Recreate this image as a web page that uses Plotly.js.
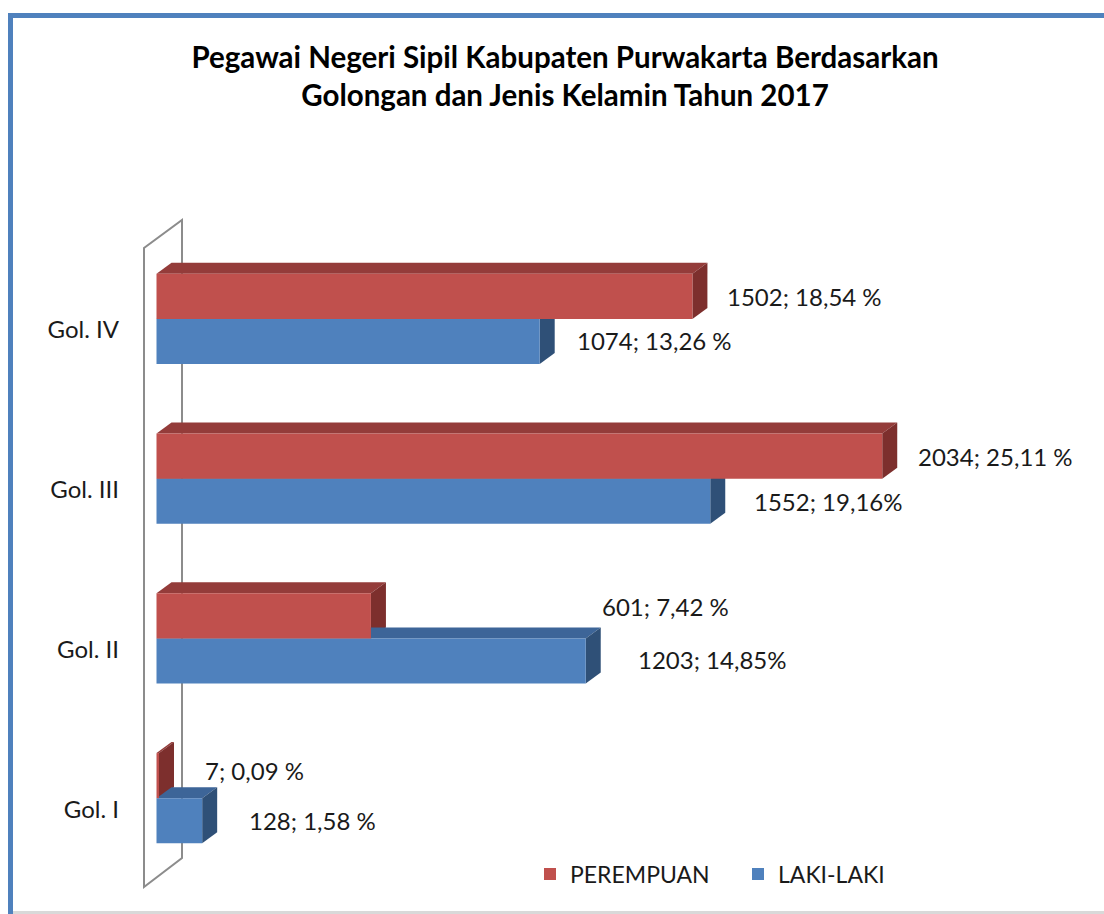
<!DOCTYPE html>
<html>
<head>
<meta charset="utf-8">
<script src="https://cdn.plot.ly/plotly-3.0.1.min.js"></script>
<style>
  html, body { margin: 0; padding: 0; background: #ffffff; }
  #chart { width: 1104px; height: 914px; }
</style>
</head>
<body>
<div id="chart"></div>
<script>
// ---- data ----
const categories = ["Gol. I", "Gol. II", "Gol. III", "Gol. IV"];
const seriesNames = ["PEREMPUAN", "LAKI-LAKI"];
const perempuan = [7, 601, 2034, 1502];
const lakiLaki = [128, 1203, 1552, 1074];
const perempuanPct = ["0,09 %", "7,42 %", "25,11 %", "18,54 %"];
const lakiLakiPct = ["1,58 %", "14,85%", "19,16%", "13,26 %"];
const titleLines = ["Pegawai Negeri Sipil Kabupaten Purwakarta Berdasarkan", "Golongan dan Jenis Kelamin Tahun 2017"];

// ---- styling / geometry ----
const W = 1104, H = 914;
const M = { l: 120, r: 4, t: 239, b: 36 };
const pxPerUnit = 0.3568;
const zeroPx = 156.5;
const xr0 = -(zeroPx - M.l) / pxPerUnit;
const xr1 = xr0 + (W - M.l - M.r) / pxPerUnit;
const plotH = H - M.t - M.b;
const catPx = plotH / 4;
const bargap = 0.436;
const barW = (1 - bargap) / 2;
const depthX = 15 / pxPerUnit;
const depthY = 11 / catPx;

const RED = "#C0504D", RED_TOP = "#943C3A", RED_SIDE = "#7D2F2D";
const BLUE = "#4F81BD", BLUE_TOP = "#3D6598", BLUE_SIDE = "#2F5077";
const FONT = "Lato, 'Open Sans', sans-serif";

// label placement tweaks (pixels)
const redShiftX = [44, 229, 34, 33];
const redShiftY = [5, 9, 0, 0];
const blueShiftX = [45, 50, 42, 35];
const blueShiftY = [0, 1, 0, 1];

function px2paperX(px) { return (px - M.l) / (W - M.l - M.r); }
function px2paperY(py) { return (H - M.b - py) / plotH; }

const shapes = [];
function faces(vals, offLo, topC, sideC) {
  vals.forEach((v, i) => {
    const b = i + offLo, t = i + offLo + barW;
    shapes.push({ type: "path", xref: "x", yref: "y", layer: "below",
      path: `M 0,${t} L ${v},${t} L ${v + depthX},${t + depthY} L ${depthX},${t + depthY} Z`,
      fillcolor: topC, line: { width: 0 } });
    shapes.push({ type: "path", xref: "x", yref: "y", layer: "below",
      path: `M ${v},${b} L ${v},${t} L ${v + depthX},${t + depthY} L ${v + depthX},${b + depthY} Z`,
      fillcolor: sideC, line: { width: 0 } });
  });
}
// wall (back plane)
const wall = [[144, 887], [144, 248], [182, 220], [182, 858]];
shapes.push({ type: "path", xref: "paper", yref: "paper", layer: "below",
  path: "M " + wall.map(p => px2paperX(p[0]) + "," + px2paperY(p[1])).join(" L ") + " Z",
  line: { color: "#8C8C8C", width: 2 }, fillcolor: "rgba(0,0,0,0)" });
faces(perempuan, 0, RED_TOP, RED_SIDE);
faces(lakiLaki, -barW, BLUE_TOP, BLUE_SIDE);
// outer frame
shapes.push({ type: "line", xref: "paper", yref: "paper", layer: "above",
  x0: px2paperX(8), x1: px2paperX(1104), y0: px2paperY(15.5), y1: px2paperY(15.5),
  line: { color: "#4F81BD", width: 5 } });
shapes.push({ type: "line", xref: "paper", yref: "paper", layer: "above",
  x0: px2paperX(10.5), x1: px2paperX(10.5), y0: px2paperY(13), y1: px2paperY(914),
  line: { color: "#4F81BD", width: 5 } });
shapes.push({ type: "line", xref: "paper", yref: "paper", layer: "above",
  x0: px2paperX(13), x1: px2paperX(1104), y0: px2paperY(912.5), y1: px2paperY(912.5),
  line: { color: "#D9D9D9", width: 3 } });

const annotations = [];
categories.forEach((c, i) => {
  annotations.push({ x: perempuan[i], y: i + barW / 2, xref: "x", yref: "y",
    text: perempuan[i] + "; " + perempuanPct[i], showarrow: false, xanchor: "left",
    xshift: redShiftX[i], yshift: redShiftY[i], font: { family: FONT, size: 24, color: "#1a1a1a" } });
  annotations.push({ x: lakiLaki[i], y: i - barW / 2, xref: "x", yref: "y",
    text: lakiLaki[i] + "; " + lakiLakiPct[i], showarrow: false, xanchor: "left",
    xshift: blueShiftX[i], yshift: blueShiftY[i], font: { family: FONT, size: 24, color: "#1a1a1a" } });
});

const traces = [
  { type: "bar", orientation: "h", name: seriesNames[1], y: categories, x: lakiLaki,
    marker: { color: BLUE, line: { width: 0 } }, hoverinfo: "x+y" },
  { type: "bar", orientation: "h", name: seriesNames[0], y: categories, x: perempuan,
    marker: { color: RED, line: { width: 0 } }, hoverinfo: "x+y" }
];

const layout = {
  width: W, height: H,
  margin: M,
  paper_bgcolor: "#ffffff", plot_bgcolor: "rgba(0,0,0,0)",
  font: { family: FONT, color: "#1a1a1a" },
  title: { text: titleLines.join("<br>"), x: 565 / W, xanchor: "center", xref: "container",
    y: 1 - 68 / H, yanchor: "middle", yref: "container",
    font: { family: FONT, size: 29.5, weight: "bold", color: "#000000" } },
  barmode: "group", bargap: bargap, bargroupgap: 0,
  xaxis: { range: [xr0, xr1], visible: false, fixedrange: true },
  yaxis: { type: "category", categoryorder: "array", categoryarray: categories,
    range: [-0.5, 3.5], showgrid: false, zeroline: false, showline: false, ticks: "",
    tickfont: { family: FONT, size: 24, color: "#1a1a1a" }, ticklabelshift: 11 },
  showlegend: true,
  legend: { orientation: "h", traceorder: "reversed", x: px2paperX(530), y: px2paperY(874),
    xanchor: "left", yanchor: "middle", entrywidth: 163,
    font: { family: FONT, size: 23, color: "#1a1a1a" },
    bgcolor: "rgba(0,0,0,0)" },
  shapes: shapes,
  annotations: annotations
};

Plotly.newPlot("chart", traces, layout, { displayModeBar: false, staticPlot: true });
</script>
</body>
</html>
